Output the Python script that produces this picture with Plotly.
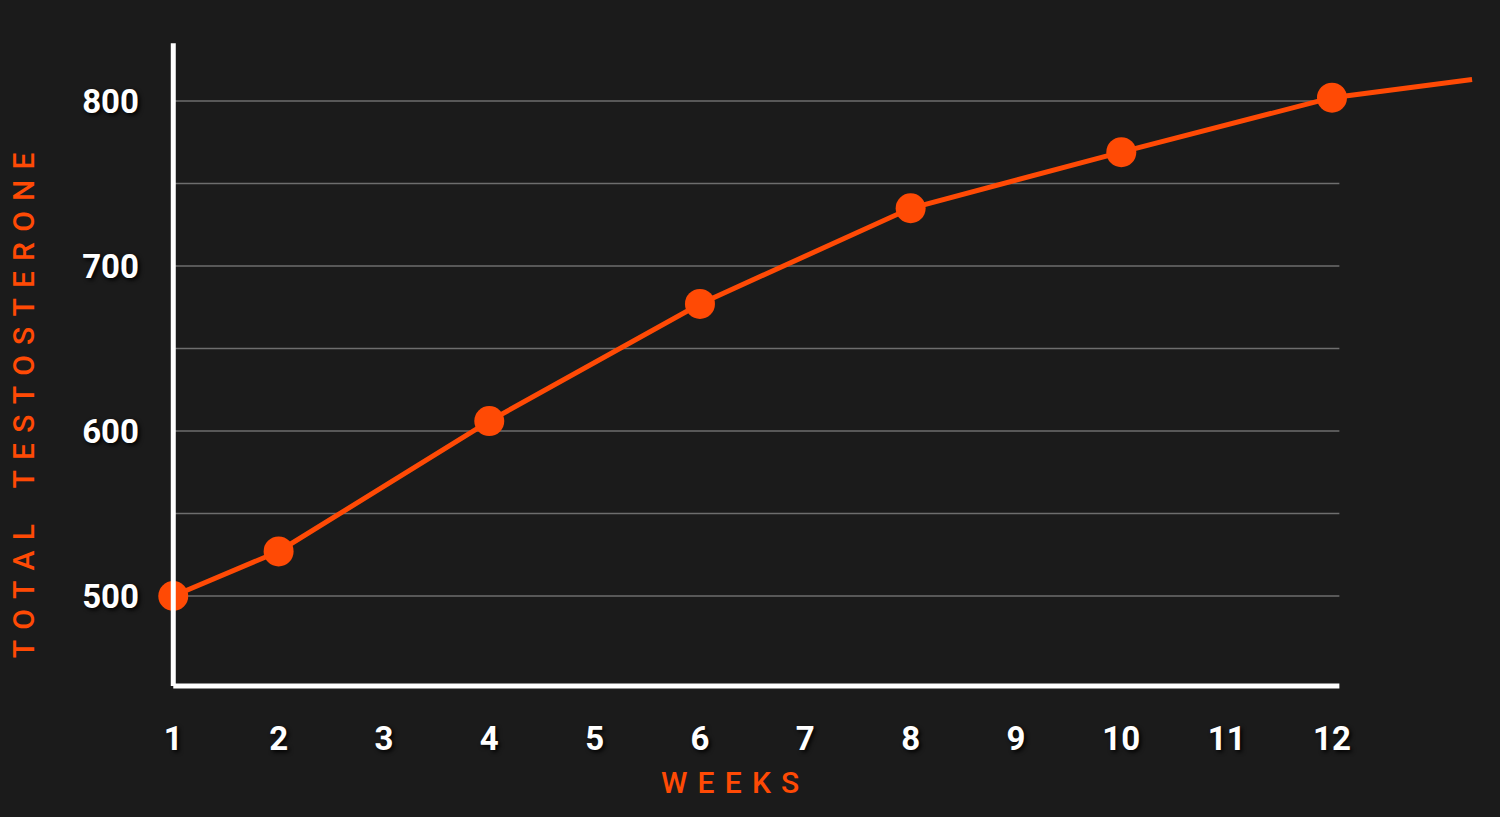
import plotly.graph_objects as go

# ── Data ───────────────────────────────────────────────────────────────────────
weeks = [1, 2, 4, 6, 8, 10, 12]
testosterone = [500, 527, 606, 677, 735, 769, 802]
tail_weeks = [12, 13.33]
tail_values = [802, 813]

x_ticks = list(range(1, 13))
y_ticks = [500, 600, 700, 800]
grid_values = [500, 550, 600, 650, 700, 750, 800]

# ── Style ──────────────────────────────────────────────────────────────────────
BG = "#1b1b1b"
ORANGE = "#ff4a05"
FONT = "Roboto, Liberation Sans Narrow, sans-serif"
X_END = 12.07   # where grid and x-axis line stop
Y_BASE = 445.5  # where the x-axis line sits
Y_TOP = 835

fig = go.Figure()

fig.add_trace(
    go.Scatter(
        x=tail_weeks,
        y=tail_values,
        mode="lines",
        line=dict(color=ORANGE, width=5),
        hoverinfo="skip",
    )
)
fig.add_trace(
    go.Scatter(
        x=weeks,
        y=testosterone,
        mode="lines+markers",
        line=dict(color=ORANGE, width=5),
        marker=dict(color=ORANGE, size=30),
        cliponaxis=False,
        hovertemplate="Week %{x}: %{y}<extra></extra>",
    )
)

# gridlines that stop at week ~12
for v in grid_values:
    fig.add_shape(
        type="line", x0=1, x1=X_END, y0=v, y1=v,
        line=dict(color="#6e6e6e", width=1.5), layer="below",
    )

# white L-shaped axes
fig.add_shape(
    type="line", x0=1, x1=1, y0=Y_BASE, y1=Y_TOP,
    line=dict(color="white", width=5),
)
fig.add_shape(
    type="line", x0=1, x1=X_END, y0=Y_BASE, y1=Y_BASE,
    line=dict(color="white", width=5),
)

tick_font = dict(
    family=FONT, size=33, color="white", weight="bold",
    shadow="2px 2px 4px #000000",
)
title_font = dict(family=FONT, size=30, color=ORANGE, weight=500)

sp = "\u2004"
fig.add_annotation(
    text=sp.join("WEEKS"),
    xref="paper", yref="paper", x=(730 - 168) / 1322, y=-0.133,
    showarrow=False, font=title_font, xanchor="center", yanchor="middle",
)
fig.add_annotation(
    text=(sp.join("TOTAL") + "\u2004\u2002\u2004" + sp.join("TESTOSTERONE")),
    xref="paper", yref="paper", x=(23 - 168) / 1322, y=0.439,
    textangle=-90, showarrow=False, font=title_font,
    xanchor="center", yanchor="middle",
)

fig.update_layout(
    paper_bgcolor=BG,
    plot_bgcolor=BG,
    showlegend=False,
    width=1500,
    height=817,
    margin=dict(l=168, r=10, t=35, b=122),
    xaxis=dict(
        range=[0.95, 13.5],
        tickvals=x_ticks,
        ticktext=[str(t) for t in x_ticks],
        showgrid=False, zeroline=False, showline=False,
        tickfont=tick_font,
        ticklabelstandoff=21,
    ),
    yaxis=dict(
        range=[440, 840],
        tickvals=y_ticks,
        showgrid=False, zeroline=False, showline=False,
        tickfont=tick_font,
        ticklabelstandoff=28,
    ),
)

fig.write_html(
    "out.html",
    config={"displayModeBar": False},
    post_script="document.body.style.margin='0';"
    "document.body.style.background='#1b1b1b';",
)
